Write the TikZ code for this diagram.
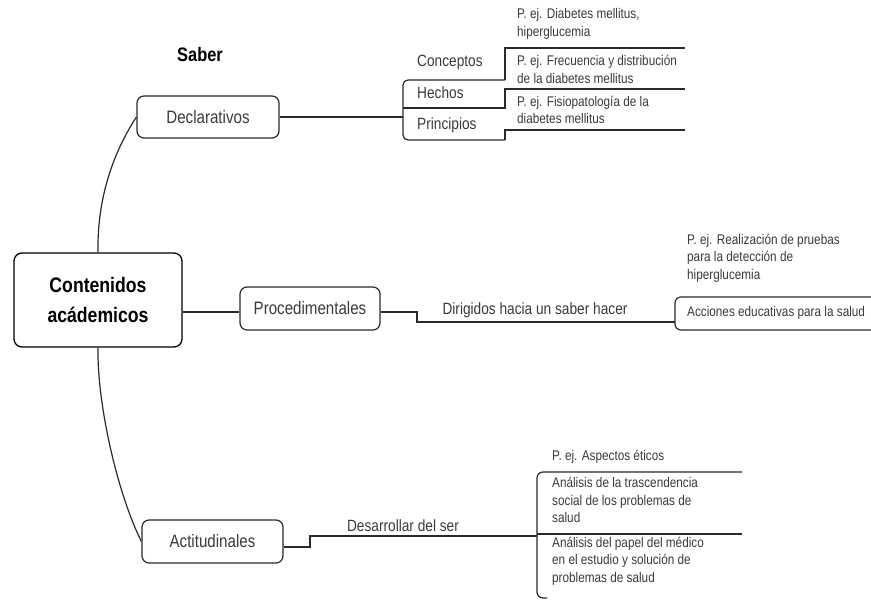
\documentclass[tikz,border=0pt]{standalone}
\usepackage{fontspec}
\setmainfont{Liberation Sans}[FakeStretch=0.84]
\definecolor{linec}{HTML}{2A2A2A}
\definecolor{txtc}{HTML}{3A3A3A}
\begin{document}
\begin{tikzpicture}[x=1pt,y=-1pt,
  conn/.style={draw=linec, line width=1.2pt},
  box/.style={draw=linec, line width=1.2pt, rounded corners=7pt, inner sep=0pt, text=txtc,
    font=\fontsize{18}{20}\selectfont},
  mainbox/.style={draw=black, line width=1.3pt, rounded corners=8pt, inner sep=0pt, align=center,
    font=\bfseries\fontsize{21}{30}\selectfont, minimum width=168pt, minimum height=94pt},
  mid/.style={text=txtc, inner sep=0pt, font=\fontsize{16.3}{18}\selectfont},
  small/.style={text=txtc, inner sep=0pt, anchor=west, align=left, font=\fontsize{14}{17.5}\selectfont},
  title/.style={inner sep=0pt, font=\bfseries\fontsize{19.5}{22}\selectfont}
]
\useasboundingbox (0,0) rectangle (871,600);

% central
\node[mainbox] (main) at (98,300) {Contenidos\\acádemicos};
\node[box, minimum width=142pt, minimum height=42pt] (decl) at (208,117) {Declarativos};
\node[box, minimum width=140pt, minimum height=43pt] (proc) at (310,308.5) {Procedimentales};
\node[box, minimum width=141pt, minimum height=43pt] (acti) at (212.5,541.5) {Actitudinales};
\node[title] (saber) at (200,55) {Saber};

\draw[conn] (main.north) .. controls (97,195) and (115,150) .. (decl.west);
\draw[conn] (main.south) .. controls (97,405) and (118,495) .. (acti.west);
\draw[conn] ([yshift=-3.5pt]proc.west) coordinate (pw) -- (main.east |- pw);

% Declarativos group
\coordinate (bx) at (403,117);
\draw[conn] (decl.east) -- (bx);
\draw[conn, rounded corners=5pt] (505,80) -- (403,80) -- (403,140) -- (505,140);
\draw[conn] (505,80) -- (505,48) -- (685,48);
\draw[conn] (403,108) -- (505,108) -- (505,89) -- (685,89);
\draw[conn] (505,140) -- (505,130) -- (685,130);
\node[mid, anchor=west] (conc) at (417,62) {Conceptos};
\node[mid, anchor=west] (hech) at (417,93) {Hechos};
\node[mid, anchor=west] (prin) at (417,125) {Principios};
\node[small] (ex1) at (517,24) {P. ej. Diabetes mellitus,\\hiperglucemia};
\node[small] (ex2) at (517,69.5) {P. ej. Frecuencia y distribución\\de la diabetes mellitus};
\node[small] (ex3) at (517,110) {P. ej. Fisiopatología de la\\diabetes mellitus};

% Procedimentales group
\coordinate (accb) at (675,322);
\draw[conn] ([yshift=-3.5pt]proc.east) -- (417,312) -- (417,322) -- (accb);
\node[mid] (dir) at (535,310) {Dirigidos hacia un saber hacer};
\draw[conn, rounded corners=6pt] (871,297) -- (675,297) -- (675,330) -- (871,330);
\node[small] (acc) at (687,313) {Acciones educativas para la salud};
\node[small] (ex4) at (687,258) {P. ej. Realización de pruebas\\para la detección de\\hiperglucemia};

% Actitudinales group
\coordinate (actb) at (537,536);
\draw[conn] ([yshift=-5.5pt]acti.east) -- (310,547) -- (310,536) -- (actb);
\node[mid] (des) at (403,526) {Desarrollar del ser};
\draw[conn, rounded corners=6pt] (742,472) -- (537,472) -- (537,598) -- (547,598);
\draw[conn] (537,534) -- (742,534);
\node[small] (ex5) at (552,457) {P. ej. Aspectos éticos};
\node[small] (an1) at (552,500) {Análisis de la trascendencia\\social de los problemas de\\salud};
\node[small] (an2) at (552,561) {Análisis del papel del médico\\en el estudio y solución de\\problemas de salud};
\end{tikzpicture}
\end{document}
